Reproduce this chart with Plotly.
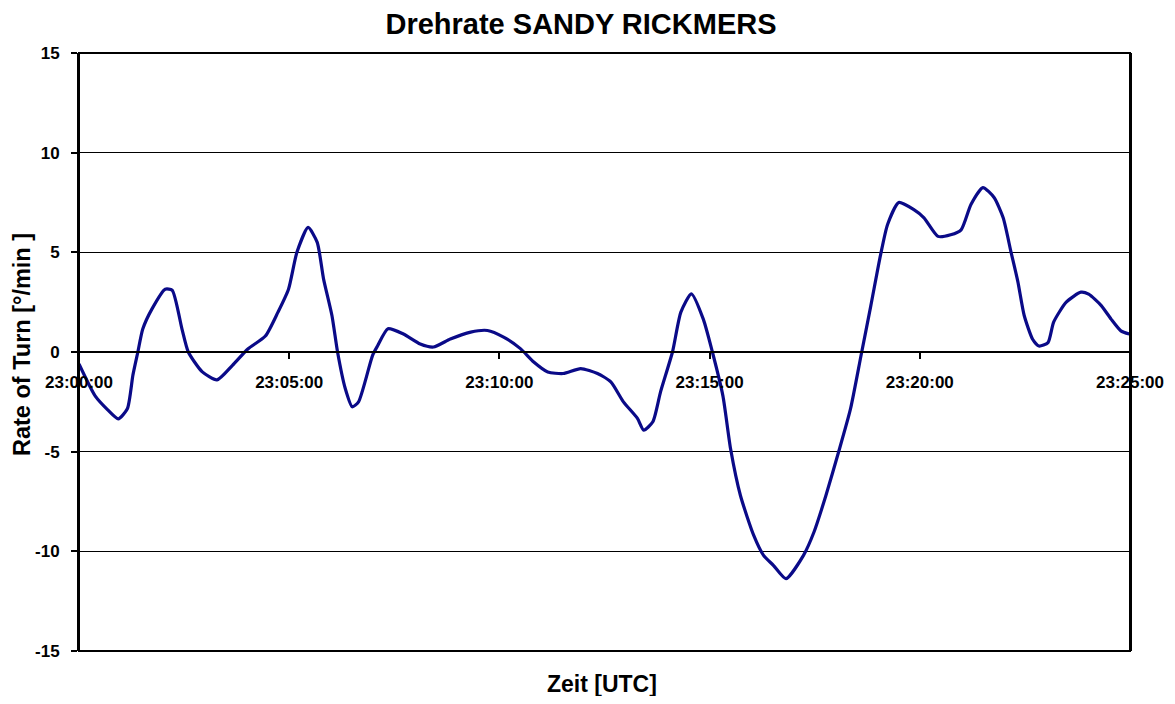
import plotly.graph_objects as go

title_text = "Drehrate SANDY RICKMERS"
x_title = "Zeit [UTC]"
y_title = "Rate of Turn [°/min ]"

times = [
    "23:00:00", "23:00:23", "23:00:41", "23:00:56", "23:01:09", "23:01:17", "23:01:24",
    "23:01:31", "23:01:44", "23:02:03", "23:02:13", "23:02:27", "23:02:36", "23:02:56",
    "23:03:17", "23:03:39", "23:04:01", "23:04:26", "23:04:44", "23:04:59", "23:05:11",
    "23:05:27", "23:05:40", "23:05:49", "23:06:01", "23:06:09", "23:06:20", "23:06:30",
    "23:06:39", "23:06:59", "23:07:06", "23:07:21", "23:07:43", "23:08:07", "23:08:26",
    "23:08:50", "23:09:19", "23:09:43", "23:10:06", "23:10:30", "23:10:49", "23:11:09",
    "23:11:31", "23:11:56", "23:12:20", "23:12:39", "23:12:57", "23:13:17", "23:13:26",
    "23:13:39", "23:13:50", "23:14:07", "23:14:19", "23:14:34", "23:14:51", "23:15:04",
    "23:15:19", "23:15:30", "23:15:44", "23:16:03", "23:16:17", "23:16:31", "23:16:49",
    "23:17:14", "23:17:29", "23:17:46", "23:18:04", "23:18:21", "23:18:36", "23:18:50",
    "23:19:04", "23:19:14", "23:19:30", "23:19:51", "23:20:06", "23:20:26", "23:20:44",
    "23:20:59", "23:21:13", "23:21:30", "23:21:46", "23:21:59", "23:22:10", "23:22:20",
    "23:22:29", "23:22:41", "23:22:50", "23:23:03", "23:23:11", "23:23:29", "23:23:50",
    "23:24:01", "23:24:19", "23:24:33", "23:24:47", "23:24:59",
]
rate_of_turn = [
    -0.6, -2.2, -2.9, -3.35, -2.85, -1.15, 0.0,
    1.15, 2.15, 3.15, 3.1, 1.15, 0.0, -1.0,
    -1.4, -0.67, 0.15, 0.8, 2.0, 3.15, 5.0,
    6.25, 5.5, 3.67, 1.83, 0.0, -1.83, -2.75,
    -2.5, -0.17, 0.3, 1.17, 0.9, 0.4, 0.25,
    0.65, 1.0, 1.08, 0.75, 0.17, -0.5, -1.0,
    -1.08, -0.83, -1.08, -1.5, -2.5, -3.33, -3.92,
    -3.5, -2.0, 0.0, 2.0, 2.92, 1.65, 0.0,
    -2.2, -4.87, -7.2, -9.2, -10.2, -10.7, -11.37,
    -10.2, -9.03, -7.2, -5.03, -2.87, -0.2, 2.3,
    4.87, 6.4, 7.5, 7.15, 6.73, 5.8, 5.88,
    6.13, 7.4, 8.25, 7.75, 6.73, 5.04, 3.52,
    1.83, 0.64, 0.3, 0.47, 1.5, 2.5, 3.0,
    2.9, 2.33, 1.65, 1.06, 0.9,
]
x_ticks = ["23:00:00", "23:05:00", "23:10:00", "23:15:00", "23:20:00", "23:25:00"]
y_ticks = [15, 10, 5, 0, -5, -10, -15]
y_tick_labels = ["15", "10", "5", "0", "-5", "-10", "-15"]

DATE = "2000-01-01 "
x_vals = [DATE + t for t in times]

FONT = "Liberation Sans, Arial, sans-serif"

# page body has an 8px margin: figure is 1159x688 so it fills the 1175x704 window
W, H = 1159, 688
L, T, R, B = 71, 45, 37, 45
PW, PH = W - L - R, H - T - B

fig = go.Figure()
fig.add_trace(go.Scatter(
    x=x_vals, y=rate_of_turn, mode="lines",
    line=dict(color="#0a0a88", width=3.2, shape="spline", smoothing=0.6),
    showlegend=False,
))

fig.update_layout(
    width=W, height=H,
    margin=dict(l=L, r=R, t=T, b=B, autoexpand=False),
    paper_bgcolor="white", plot_bgcolor="white",
    title=dict(text=title_text, x=(581 - 8) / W, xanchor="center", xref="container",
               y=1 - (23.5 - 8) / H, yanchor="middle", yref="container",
               font=dict(family=FONT, size=29, color="black", weight="bold")),
    xaxis=dict(
        type="date",
        range=[DATE + x_ticks[0], DATE + x_ticks[-1]],
        tickvals=[DATE + t for t in x_ticks], ticktext=x_ticks,
        anchor="free", position=0.5,
        showline=True, linecolor="black", linewidth=2,
        ticks="outside", ticklen=6, tickwidth=2, tickcolor="black",
        ticklabelstandoff=9,
        showgrid=False, zeroline=False,
        tickfont=dict(family=FONT, size=17, color="black", weight="bold"),
    ),
    yaxis=dict(
        range=[-15, 15], tickvals=y_ticks, ticktext=y_tick_labels, domain=[0, 1],
        showline=True, linecolor="black", linewidth=2, mirror=True,
        ticks="outside", ticklen=6, tickwidth=2, tickcolor="black",
        ticklabelstandoff=8,
        showgrid=True, gridcolor="black", gridwidth=1,
        zeroline=False,
        tickfont=dict(family=FONT, size=17, color="black", weight="bold"),
    ),
    shapes=[dict(type="rect", xref="paper", yref="paper", x0=0, x1=1, y0=0, y1=1,
                 line=dict(color="black", width=2), layer="above")],
    annotations=[
        dict(text=x_title, xref="paper", yref="paper", x=(602 - 79) / PW, y=0,
             yshift=-33, xanchor="center", yanchor="middle", showarrow=False,
             font=dict(family=FONT, size=23, color="black", weight="bold")),
        dict(text=y_title, xref="paper", yref="paper", x=0, y=(651 - 345) / PH,
             xshift=-57, textangle=-90, xanchor="center", yanchor="middle", showarrow=False,
             font=dict(family=FONT, size=23.5, color="black", weight="bold")),
    ],
)

fig.write_html("out.html")
